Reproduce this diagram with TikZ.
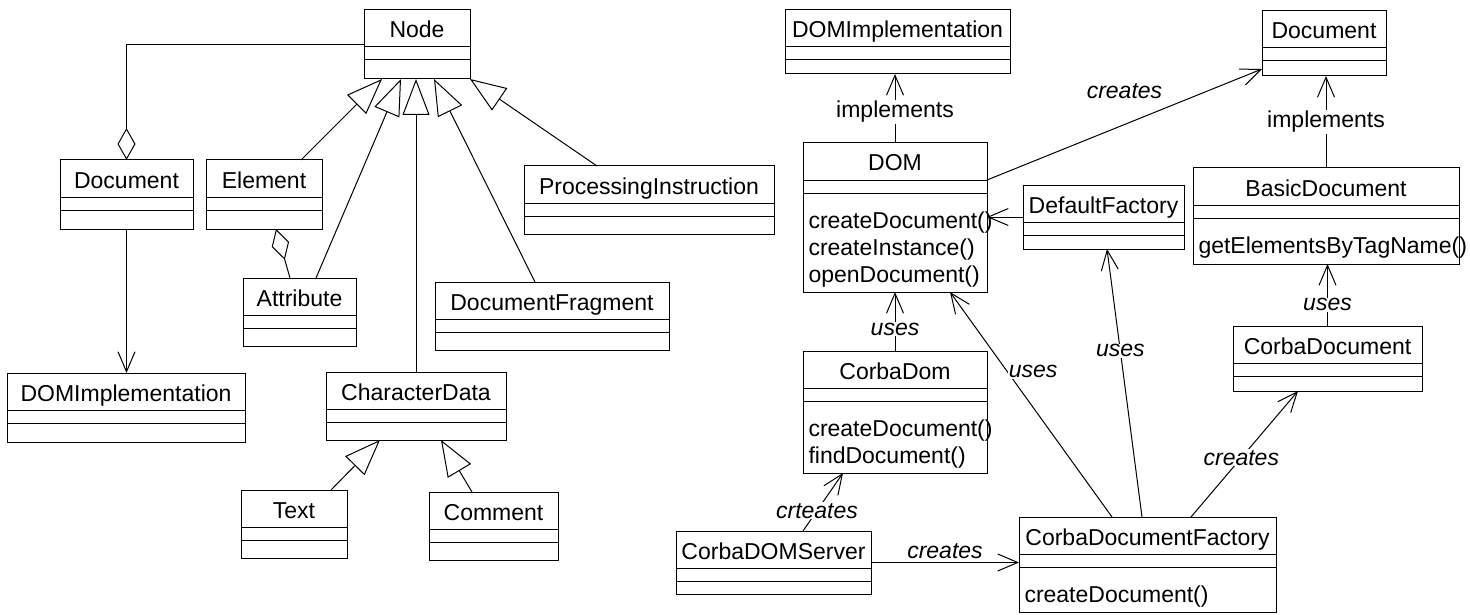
\documentclass[tikz,border=0pt]{standalone}
\usepackage{fontspec}
\setmainfont{Liberation Sans}
\usetikzlibrary{arrows.meta}

\newcommand{\diagfont}{\fontsize{23}{27}\selectfont}

\tikzset{
  classbox/.style={draw, rectangle, inner sep=0pt, outer sep=0pt},
  opsbox/.style={anchor=north west, align=left, inner sep=0pt},
  inherits/.style={-{Triangle[open, length=36pt, width=27pt]}},
  aggregate/.style={{Diamond[open, length=32pt, width=18pt]}-},
  depends/.style={-{Straight Barb[length=20pt, width=17pt]}},
  stereo/.style={fill=white, inner sep=1pt},
  role/.style={font=\diagfont\itshape, fill=white, inner sep=1pt}
}

% class box: name, left, top, right, bottom, title
\newcommand{\umlclass}[6]{%
  \node[classbox, minimum width={(#4-#2)*1pt}, minimum height={(#5-#3)*1pt}]
    (#1) at ({(#2+#4)/2},{(#3+#5)/2}) {};
  \node[anchor=base] (#1-title) at ({(#2+#4)/2},#3+28) {#6};
  \draw (#2,#3+37) -- (#4,#3+37) (#2,#3+50) -- (#4,#3+50);
}
% operations of a class box
\newcommand{\umlops}[2]{%
  \node[opsbox] (#1-ops) at ([xshift=5pt,yshift=-66pt]#1.north west) {#2};
}

\begin{document}
\begin{tikzpicture}[x=1pt, y=-1pt, line width=1pt, font=\diagfont]

  \useasboundingbox (0,0) rectangle (1470,615);

  %DOM core interfaces
  \umlclass{node}{364}{10}{470}{79}{Node}
  \umlclass{ldoc}{60}{160}{193}{229}{Document}
  \umlclass{elem}{206}{160}{322}{229}{Element}
  \umlclass{attr}{243}{278}{356}{346}{Attribute}
  \umlclass{limpl}{7}{373}{245}{442}{DOMImplementation}
  \umlclass{chdata}{326}{372}{506}{440}{CharacterData}
  \umlclass{text}{241}{490}{347}{558}{Text}
  \umlclass{comment}{429}{492}{558}{560}{Comment}
  \umlclass{pinst}{524}{166}{774}{234}{ProcessingInstruction}
  \umlclass{dfrag}{435}{282}{669}{350}{DocumentFragment}

  \draw[aggregate] (ldoc.north) |- (node.west);
  \draw[inherits] ([xshift=-21pt]elem.north east) -- ([xshift=18pt]node.south west);
  \draw[inherits] ([xshift=73pt]attr.north west) -- ([xshift=37pt]node.south west);
  \draw[inherits] (chdata.north) -- (chdata.north |- node.south);
  \draw[inherits] ([xshift=100pt]dfrag.north west) -- ([xshift=70pt]node.south west);
  \draw[inherits] ([xshift=73pt]pinst.north west) -- (node.south east);
  \draw[aggregate] ([xshift=70pt]elem.south west) -- ([xshift=47pt]attr.north west);
  \draw[depends] (ldoc.south) -- (ldoc.south |- limpl.north);
  \draw[inherits] ([xshift=90pt]text.north west) -- ([xshift=54pt]chdata.south west);
  \draw[inherits] ([xshift=43pt]comment.north west) -- ([xshift=115pt]chdata.south west);

  %Corba implementation
  \umlclass{rimpl}{785}{10}{1010}{74}{DOMImplementation}
  \umlclass{dom}{803}{143}{987}{292}{DOM}
  \umlops{dom}{\strut createDocument()\\\strut createInstance()\\\strut openDocument()}
  \umlclass{rdoc}{1262}{11}{1386}{76}{Document}
  \umlclass{basic}{1193}{168}{1459}{264}{BasicDocument}
  \umlops{basic}{\strut getElementsByTagName()}
  \umlclass{dfac}{1023}{185}{1184}{249}{DefaultFactory}
  \umlclass{cdom}{803}{351}{987}{473}{CorbaDom}
  \umlops{cdom}{\strut createDocument()\\\strut findDocument()}
  \umlclass{cdoc}{1233}{326}{1422}{391}{CorbaDocument}
  \umlclass{cserv}{676}{531}{871}{594}{CorbaDOMServer}
  \umlclass{cdf}{1019}{517}{1276}{612}{CorbaDocumentFactory}
  \umlops{cdf}{\strut createDocument()}

  \draw[depends] (dom.north) -- node[stereo, pos=0.45] {implements} (dom.north |- rimpl.south);
  \draw[depends] ([yshift=-37pt]dom.north east) -- node[midway, yshift=33pt, font=\diagfont\itshape] {creates} ([yshift=7pt]rdoc.south west);
  \draw[depends] (dfac.west) -- (dfac.west -| dom.east);
  \draw[depends] (basic.north) -- node[stereo] {implements} (basic.north |- rdoc.south);
  \draw[depends] (cdoc.north) -- node[role, pos=0.34] {uses} (cdoc.north |- basic.south);
  \draw[depends] (cdom.north) -- node[role, pos=0.37] {uses} (cdom.north |- dom.south);
  \draw[depends] ([xshift=127pt]cserv.north west) -- node[role, pos=0.35] {crteates} ([xshift=40pt]cdom.south west);
  \draw[depends] (cserv.east) -- node[above, font=\diagfont\itshape] {creates} (cserv.east -| cdf.west);
  \draw[depends] ([xshift=93pt]cdf.north west) -- node[role, pos=0.647, xshift=26pt] {uses} ([xshift=147pt]dom.south west);
  \draw[depends] ([xshift=123pt]cdf.north west) -- node[role, pos=0.62] {uses} ([xshift=84pt]dfac.south west);
  \draw[depends] ([xshift=172pt]cdf.north west) -- node[role, pos=0.47] {creates} ([xshift=65pt]cdoc.south west);

\end{tikzpicture}
\end{document}
